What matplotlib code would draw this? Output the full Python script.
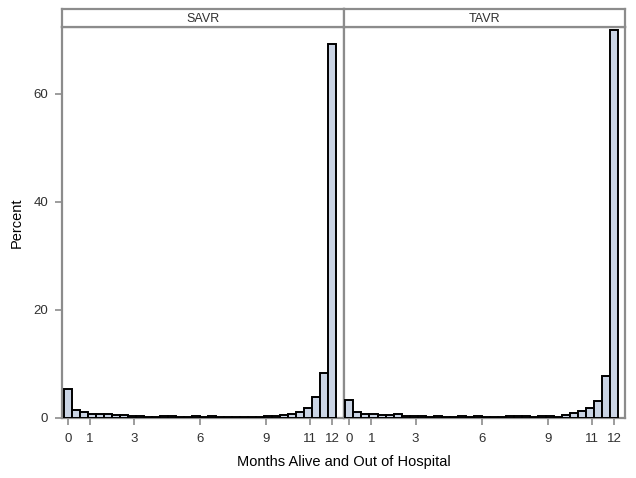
import numpy as np
import matplotlib.pyplot as plt

plt.rcParams['font.family'] = ['Liberation Sans', 'DejaVu Sans']

# bin midpoints: 34 bins from 0 to 12 months
n_bins = 34
panels = ["SAVR", "TAVR"]
savr_pct = [5.4, 1.4, 1.1, 0.7, 0.7, 0.7, 0.5, 0.5, 0.3, 0.4, 0.2, 0.2,
            0.3, 0.3, 0.1, 0.1, 0.3, 0.2, 0.3, 0.1, 0.1, 0.1, 0.1, 0.1,
            0.2, 0.3, 0.4, 0.6, 0.7, 1.1, 1.8, 3.8, 8.3, 69.3]
tavr_pct = [3.3, 1.1, 0.7, 0.7, 0.6, 0.5, 0.8, 0.4, 0.4, 0.3, 0.2, 0.3,
            0.2, 0.2, 0.3, 0.2, 0.3, 0.2, 0.1, 0.1, 0.3, 0.3, 0.3, 0.1,
            0.3, 0.4, 0.2, 0.5, 0.9, 1.3, 1.8, 3.2, 7.8, 71.8]
xticks = [0, 1, 3, 6, 9, 11, 12]
yticks = [0, 20, 40, 60]

mids = np.linspace(0, 12, n_bins)
width = 12 / (n_bins - 1)

frame = '#8c8c8c'
fill = '#cad4e4'
txt = '#303030'

fig = plt.figure(figsize=(6.36, 4.78), dpi=100)
W, H = 636, 478
left, mid, right = 62, 343.5, 625
top, bottom = 27, 418
strip_top = 9

axes = []
for i, (name, vals) in enumerate(zip(panels, [savr_pct, tavr_pct])):
    x0 = left if i == 0 else mid
    x1 = mid if i == 0 else right
    ax = fig.add_axes([x0 / W, 1 - bottom / H, (x1 - x0) / W, (bottom - top) / H])
    ax.bar(mids, vals, width=width, color=fill, edgecolor='black', linewidth=1.4, zorder=3)
    ax.set_xlim(-0.27, 12.5)
    ax.set_ylim(0, 72.4)
    for s in ax.spines.values():
        s.set_color(frame)
        s.set_linewidth(1.6)
    ax.set_xticks(xticks)
    ax.tick_params(axis='both', colors=frame, labelcolor=txt, labelsize=9.5,
                   length=5, width=1.2)
    ax.tick_params(axis='x', pad=6)
    if i == 0:
        ax.set_yticks(yticks)
        ax.tick_params(axis='y', pad=5)
        ax.set_ylabel("Percent", fontsize=10.5, color='black', labelpad=7)
    else:
        ax.set_yticks([])
    # strip header
    sax = fig.add_axes([x0 / W, 1 - top / H, (x1 - x0) / W, (top - strip_top) / H])
    sax.set_xticks([])
    sax.set_yticks([])
    for s in sax.spines.values():
        s.set_color(frame)
        s.set_linewidth(1.6)
    sax.text(0.5, 0.45, name, ha='center', va='center', fontsize=9, color=txt,
             transform=sax.transAxes)
    axes.append(ax)

fig.text((left + right) / 2 / W, 1 - 462 / H, "Months Alive and Out of Hospital",
         ha='center', va='center', fontsize=10.5)

fig.savefig("out.png", dpi=100)
